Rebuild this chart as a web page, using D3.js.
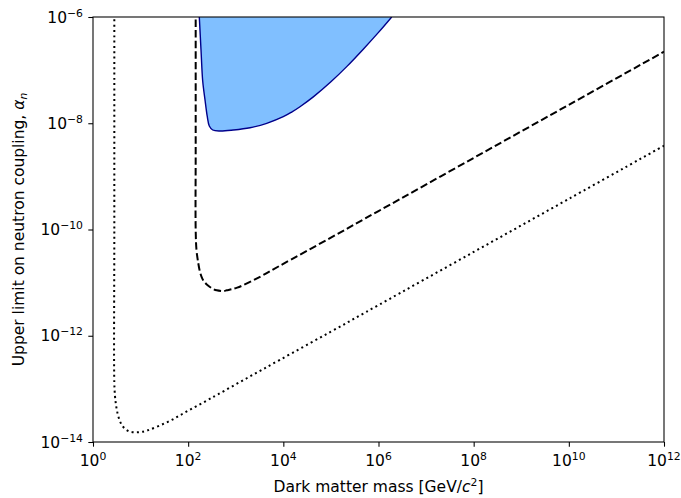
<!DOCTYPE html>
<html><head><meta charset="utf-8">
<script src="https://cdn.jsdelivr.net/npm/d3@7"></script>
<style>
body{margin:0;background:#fff;}
text{font-family:"DejaVu Sans",sans-serif;fill:#000;}
</style></head>
<body>
<svg id="chart" width="681" height="498"></svg>
<script>
// ---- data (log10 of mass in GeV/c^2, log10 of alpha_n) ----
const dashedLogMass  = [2.158, 2.158, 2.158, 2.175, 2.213, 2.249, 2.300, 2.354, 2.423, 2.528, 2.600, 2.738, 2.810, 3.030, 3.510, 3.930, 5, 6, 8, 10, 12];
const dashedLogAlpha = [-5.85, -8.50, -10.009, -10.386, -10.636, -10.800, -10.930, -11.000, -11.060, -11.120, -11.145, -11.158, -11.145, -11.095, -10.890, -10.680, -10.153, -9.653, -8.653, -7.653, -6.653];

const dottedLogMass  = [0.448, 0.448, 0.448, 0.462, 0.477, 0.498, 0.525, 0.567, 0.637, 0.742, 0.868, 1.009, 1.150, 1.393, 1.639, 1.877, 2.129, 2.375, 2.612, 3.230, 3.930, 5, 6, 8, 10, 12];
const dottedLogAlpha = [-5.85, -10.0, -12.884, -13.134, -13.260, -13.384, -13.492, -13.610, -13.718, -13.793, -13.817, -13.812, -13.780, -13.693, -13.592, -13.473, -13.347, -13.228, -13.110, -12.800, -12.452, -11.923, -11.423, -10.423, -9.423, -8.423];

const excludedLogMass  = [2.234, 2.270, 2.305, 2.354, 2.402, 2.444, 2.516, 2.669, 2.949, 3.300, 3.651, 3.999, 4.175, 4.350, 4.630, 5.000, 5.332, 5.680, 6.000, 6.278];
const excludedLogAlpha = [-6.0, -6.62, -7.20, -7.56, -7.877, -8.052, -8.127, -8.146, -8.127, -8.084, -8.001, -7.877, -7.790, -7.689, -7.504, -7.220, -6.934, -6.606, -6.290, -6.0];

const xTickExp = [0, 2, 4, 6, 8, 10, 12];
const yTickExp = [-6, -8, -10, -12, -14];

// ---- layout ----
const svg = d3.select("#chart");
const L = 93, R = 664, T = 17, B = 442;
const FS = 15.5, FSS = 10.8;
const x = d3.scaleLog().domain([1, 1e12]).range([L, R]);
const y = d3.scaleLog().domain([1e-14, 1e-6]).range([B, T]);

svg.append("defs").append("clipPath").attr("id", "clip")
  .append("rect").attr("x", L).attr("y", T).attr("width", R - L).attr("height", B - T);

const g = svg.append("g").attr("clip-path", "url(#clip)");

const toPts = (lm, la) => lm.map((v, i) => [Math.pow(10, v), Math.pow(10, la[i])]);
const smooth = d3.curveCatmullRom.alpha(0.5);

// excluded region
const exPts = toPts(excludedLogMass, excludedLogAlpha);
g.append("path")
  .attr("d", d3.area().x(d => x(d[0])).y0(y(1e-6)).y1(d => y(d[1])).curve(smooth)(exPts))
  .attr("fill", "#80bfff").attr("stroke", "none");
g.append("path")
  .attr("d", d3.line().x(d => x(d[0])).y(d => y(d[1])).curve(smooth)(exPts))
  .attr("fill", "none").attr("stroke", "#00008b").attr("stroke-width", 1.4);

const line = d3.line().x(d => x(d[0])).y(d => y(d[1])).curve(smooth);

g.append("path").attr("d", line(toPts(dashedLogMass, dashedLogAlpha)))
  .attr("fill", "none").attr("stroke", "#000").attr("stroke-width", 2)
  .attr("stroke-dasharray", "7.4,3.2");

g.append("path").attr("d", line(toPts(dottedLogMass, dottedLogAlpha)))
  .attr("fill", "none").attr("stroke", "#000").attr("stroke-width", 2)
  .attr("stroke-dasharray", "2,3.3");

// axes
const xAxis = d3.axisBottom(x).tickValues(xTickExp.map(e => Math.pow(10, e))).tickSize(4.7).tickFormat("");
const yAxis = d3.axisLeft(y).tickValues(yTickExp.map(e => Math.pow(10, e))).tickSize(4.7).tickFormat("");
const gx = svg.append("g").attr("transform", `translate(0,${B})`).call(xAxis);
const gy = svg.append("g").attr("transform", `translate(${L},0)`).call(yAxis);
[gx, gy].forEach(a => { a.select(".domain").remove(); a.selectAll("line").attr("stroke", "#000").attr("stroke-width", 1.07); });

svg.append("rect").attr("x", L).attr("y", T).attr("width", R - L).attr("height", B - T)
  .attr("fill", "none").attr("stroke", "#000").attr("stroke-width", 1.07);

// tick labels
xTickExp.forEach(e => {
  const t = svg.append("text").attr("x", x(Math.pow(10, e))).attr("y", 466)
    .attr("text-anchor", "middle").attr("font-size", FS);
  t.append("tspan").text("10");
  t.append("tspan").attr("font-size", FSS).attr("dy", -6).text(String(e));
});
yTickExp.forEach(e => {
  const t = svg.append("text").attr("x", 83).attr("y", y(Math.pow(10, e)) + 5.5)
    .attr("text-anchor", "end").attr("font-size", FS);
  t.append("tspan").text("10");
  t.append("tspan").attr("font-size", FSS).attr("dy", -6).text("\u2212" + Math.abs(e));
});

// axis labels
const xl = svg.append("text").attr("x", (L + R) / 2).attr("y", 492)
  .attr("text-anchor", "middle").attr("font-size", FS);
xl.append("tspan").text("Dark matter mass [GeV/");
xl.append("tspan").attr("font-style", "italic").text("c");
xl.append("tspan").attr("font-size", FSS).attr("dy", -6).text("2");
xl.append("tspan").attr("dy", 6).text("]");

const yl = svg.append("text").attr("transform", `translate(24,${(T + B) / 2}) rotate(-90)`)
  .attr("text-anchor", "middle").attr("font-size", FS);
yl.append("tspan").text("Upper limit on neutron coupling, ");
yl.append("tspan").attr("font-style", "italic").text("\u03b1");
yl.append("tspan").attr("font-style", "italic").attr("font-size", FSS).attr("dy", 3).text("n");
</script>
</body></html>
